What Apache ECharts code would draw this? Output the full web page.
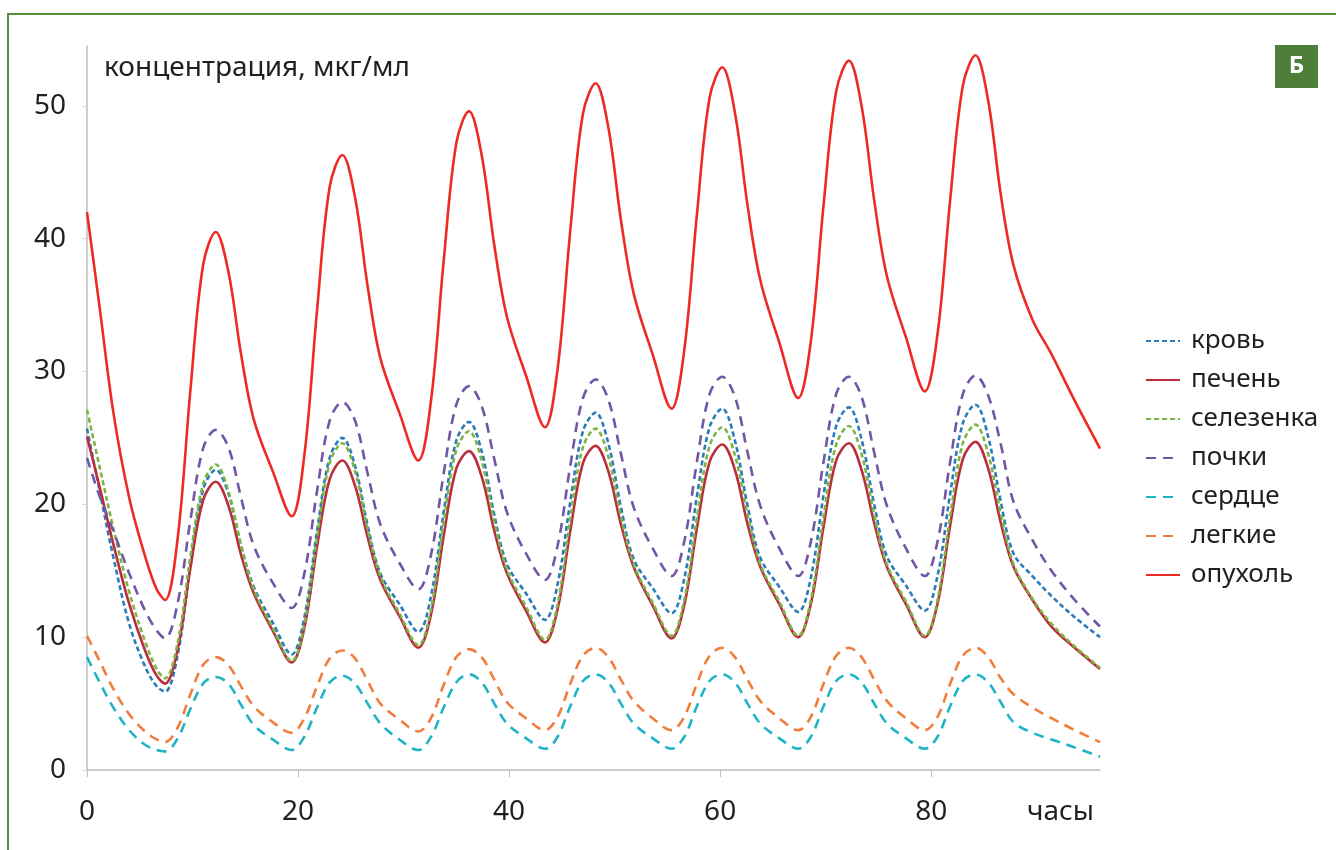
<!DOCTYPE html>
<html lang="ru">

<head>
    <meta charset="UTF-8">
    <title>концентрация</title>
    <script src="https://cdn.jsdelivr.net/npm/echarts@6/dist/echarts.min.js"></script>
    <style>
        * {
            margin: 0;
            padding: 0;
        }

        html,
        body {
            width: 100%;
            height: 100%;
            background: #fff;
        }
    </style>
</head>

<body>
    <div id="main" style="width: 1336px;height:850px;"></div>
</body>
<script>
    // часы
    var hours = [0, 1.2, 2.5, 4, 5.5, 6.6, 7.4,
        8.6, 9.8, 11, 12.2, 13.4, 14.6, 15.8, 17.6, 19.4,
        20.6, 21.8, 23, 24.2, 25.4, 26.6, 27.8, 29.6, 31.4,
        32.6, 33.8, 35, 36.2, 37.4, 38.6, 39.8, 41.6, 43.4,
        44.6, 45.8, 47, 48.2, 49.4, 50.6, 51.8, 53.6, 55.4,
        56.6, 57.8, 59, 60.2, 61.4, 62.6, 63.8, 65.6, 67.4,
        68.6, 69.8, 71, 72.2, 73.4, 74.6, 75.8, 77.6, 79.4,
        80.6, 81.8, 83, 84.2, 85.4, 86.6, 87.8, 89.6, 91.4, 93.6, 96];

    var blood = [25.7, 21.0, 16.0, 11.0, 7.8, 6.3, 5.9,
        8.7, 15.4, 21.1, 22.6, 20.8, 16.9, 13.8, 11.1, 8.7,
        11.5, 18.0, 23.5, 25.0, 22.9, 18.4, 14.8, 12.5, 10.4,
        13.1, 19.4, 24.8, 26.2, 24.0, 19.2, 15.5, 13.3, 11.3,
        14.0, 20.2, 25.5, 26.9, 24.6, 19.8, 15.9, 13.7, 11.8,
        14.4, 20.6, 25.8, 27.2, 24.8, 19.9, 16.0, 13.8, 11.9,
        14.5, 20.7, 25.9, 27.3, 24.9, 20.0, 16.1, 13.9, 12.0,
        14.6, 20.8, 26.1, 27.5, 25.1, 20.2, 16.3, 14.6, 13.1, 11.5, 10.0];

    var liver = [25.1, 21.3, 17.0, 12.5, 9.0, 7.1, 6.5,
        9.1, 15.2, 20.3, 21.7, 19.9, 16.2, 13.3, 10.5, 8.1,
        10.7, 16.8, 21.9, 23.3, 21.4, 17.5, 14.3, 11.6, 9.2,
        11.7, 17.6, 22.7, 24.0, 22.1, 18.0, 14.8, 12.0, 9.6,
        12.1, 18.0, 23.1, 24.4, 22.5, 18.5, 15.3, 12.4, 9.9,
        12.4, 18.2, 23.2, 24.5, 22.6, 18.5, 15.3, 12.5, 10.0,
        12.5, 18.3, 23.3, 24.6, 22.6, 18.6, 15.3, 12.5, 10.0,
        12.5, 18.4, 23.4, 24.7, 22.7, 18.6, 15.3, 12.8, 10.8, 9.2, 7.6];

    var spleen = [27.1, 22.8, 18.2, 13.4, 9.7, 7.6, 6.9,
        9.6, 16.1, 21.5, 23.0, 21.0, 16.9, 13.6, 10.7, 8.2,
        11.0, 17.5, 23.1, 24.6, 22.5, 18.1, 14.6, 11.8, 9.4,
        12.1, 18.6, 24.1, 25.5, 23.3, 18.7, 15.1, 12.3, 9.8,
        12.5, 18.9, 24.3, 25.7, 23.6, 19.1, 15.5, 12.6, 10.1,
        12.8, 19.0, 24.4, 25.8, 23.7, 19.2, 15.5, 12.7, 10.1,
        12.8, 19.1, 24.5, 25.9, 23.8, 19.2, 15.5, 12.7, 10.1,
        12.8, 19.1, 24.6, 26.0, 23.8, 19.3, 15.5, 12.9, 11.0, 9.3, 7.7];

    var kidneys = [23.5, 20.6, 18.0, 14.8, 12.0, 10.5, 9.9,
        12.6, 18.8, 24.2, 25.6, 24.3, 20.5, 16.9, 14.1, 12.2,
        14.8, 21.0, 26.3, 27.7, 26.3, 22.3, 18.5, 15.6, 13.6,
        16.2, 22.3, 27.5, 28.9, 27.4, 23.4, 19.4, 16.3, 14.3,
        16.9, 22.9, 28.0, 29.4, 27.9, 23.8, 19.8, 16.7, 14.6,
        17.2, 23.2, 28.3, 29.6, 28.1, 23.9, 19.9, 16.7, 14.6,
        17.2, 23.2, 28.3, 29.6, 28.1, 23.9, 19.9, 16.7, 14.6,
        17.2, 23.2, 28.3, 29.7, 28.2, 24.5, 20.2, 17.3, 15.0, 12.8, 10.8];

    var heart = [8.5, 6.6, 4.7, 3.0, 1.9, 1.5, 1.4,
        2.4, 4.6, 6.5, 7.0, 6.5, 4.9, 3.4, 2.3, 1.5,
        2.5, 4.7, 6.6, 7.1, 6.5, 5.0, 3.5, 2.3, 1.5,
        2.5, 4.7, 6.6, 7.2, 6.6, 5.0, 3.5, 2.4, 1.6,
        2.5, 4.8, 6.7, 7.2, 6.6, 5.0, 3.5, 2.4, 1.6,
        2.5, 4.8, 6.7, 7.2, 6.6, 5.0, 3.5, 2.4, 1.6,
        2.5, 4.8, 6.7, 7.2, 6.6, 5.0, 3.5, 2.4, 1.6,
        2.5, 4.8, 6.7, 7.2, 6.6, 5.1, 3.6, 2.8, 2.3, 1.7, 1.0];

    var lungs = [10.1, 8.2, 6.1, 4.2, 2.9, 2.3, 2.1,
        3.2, 5.7, 7.9, 8.5, 7.9, 6.3, 4.8, 3.6, 2.8,
        3.9, 6.3, 8.4, 9.0, 8.4, 6.7, 5.0, 3.8, 2.9,
        3.9, 6.4, 8.5, 9.1, 8.5, 6.8, 5.1, 3.9, 3.0,
        4.0, 6.5, 8.6, 9.2, 8.5, 6.8, 5.2, 3.9, 3.0,
        4.0, 6.5, 8.6, 9.2, 8.5, 6.8, 5.2, 3.9, 3.0,
        4.0, 6.5, 8.6, 9.2, 8.5, 6.8, 5.2, 3.9, 3.0,
        4.0, 6.5, 8.6, 9.2, 8.5, 6.9, 5.7, 4.7, 3.9, 3.0, 2.1];

    var tumor = [42.0, 34.8, 26.9, 20.5, 16.1, 13.6, 12.8,
        17.5, 28.6, 38.0, 40.5, 37.5, 31.3, 26.4, 22.5, 19.1,
        23.7, 34.6, 43.9, 46.3, 43.1, 36.4, 31.0, 26.9, 23.3,
        27.8, 38.3, 47.2, 49.6, 46.3, 39.5, 34.1, 29.7, 25.8,
        30.2, 40.6, 49.4, 51.7, 48.4, 41.4, 35.9, 31.3, 27.2,
        31.6, 41.8, 50.6, 52.9, 49.5, 42.5, 36.9, 32.2, 28.0,
        32.3, 42.5, 51.1, 53.4, 50.0, 42.9, 37.2, 32.6, 28.5,
        32.8, 42.9, 51.5, 53.8, 50.4, 43.3, 38.0, 33.9, 31.3, 27.8, 24.2];

    var xTicks = [0, 20, 40, 60, 80];
    var yTicks = [0, 10, 20, 30, 40, 50];

    var FONT = '"Noto Sans", "Open Sans", sans-serif';
    var TEXT = '#231f20';
    var AXIS = '#bdbdbd';
    var FRAME = '#5b8f3f';

    function pairs(values) {
        var res = [];
        for (var i = 0; i < hours.length; i++) {
            res.push([hours[i], values[i]]);
        }
        return res;
    }

    function line(name, values, color, dash) {
        return {
            name: name,
            type: 'line',
            data: pairs(values),
            smooth: 0.35,
            symbol: 'none',
            lineStyle: {
                color: color,
                width: 2.6,
                type: dash || 'solid'
            },
            itemStyle: { color: color }
        };
    }

    var myChart = echarts.init(document.getElementById('main'));
    myChart.setOption({
        animation: false,
        backgroundColor: '#fff',
        textStyle: { fontFamily: FONT },
        title: {
            text: 'концентрация, мкг/мл',
            left: 99,
            top: 49,
            textStyle: { fontFamily: FONT, fontSize: 28, fontWeight: 'normal', color: TEXT }
        },
        legend: {
            orient: 'vertical',
            left: 1140,
            top: 323,
            itemWidth: 34,
            itemHeight: 14,
            itemGap: 13,
            // только линия, без маркера
            itemStyle: { opacity: 0, borderWidth: 0 },
            textStyle: { fontFamily: FONT, fontSize: 26, color: TEXT, padding: [0, 0, 0, 6] },
            data: ['кровь', 'печень', 'селезенка', 'почки', 'сердце', 'легкие', 'опухоль']
        },
        grid: {
            left: 87,
            top: 46,
            width: 1013,
            height: 724
        },
        xAxis: {
            type: 'value',
            min: 0,
            max: 96,
            interval: 20,
            name: 'часы',
            nameLocation: 'end',
            nameGap: -73,
            nameTextStyle: {
                fontFamily: FONT, fontSize: 28, color: TEXT,
                verticalAlign: 'top', padding: [28, 0, 0, 0]
            },
            axisLine: { lineStyle: { color: AXIS, width: 1.5 } },
            axisTick: { show: true, length: 7, customValues: xTicks, lineStyle: { color: AXIS } },
            axisLabel: { customValues: xTicks, margin: 28, fontFamily: FONT, fontSize: 28, color: TEXT },
            splitLine: { show: false }
        },
        yAxis: {
            type: 'value',
            min: 0,
            max: 54.5,
            interval: 10,
            axisLine: { show: true, lineStyle: { color: AXIS, width: 1.5 } },
            axisTick: { show: true, length: 5, customValues: yTicks, lineStyle: { color: '#d6d6d6' } },
            axisLabel: { customValues: yTicks, margin: 21, fontFamily: FONT, fontSize: 28, color: TEXT },
            splitLine: { show: false }
        },
        graphic: [
            {
                type: 'polyline',
                shape: { points: [[8, 850], [8, 14], [1336, 14]] },
                style: { stroke: FRAME, lineWidth: 2, fill: null }
            },
            {
                type: 'rect',
                shape: { x: 1275, y: 45, width: 43, height: 43 },
                style: { fill: '#4f7d3a' }
            },
            {
                type: 'text',
                x: 1296.5,
                y: 66.5,
                style: {
                    text: 'Б', fill: '#fff', font: 'bold 24px ' + FONT,
                    align: 'center', verticalAlign: 'middle'
                }
            }
        ],
        series: [
            line('кровь', blood, '#2b7bba', [5, 3]),
            line('печень', liver, '#bb2d3b'),
            line('селезенка', spleen, '#7db544', [5, 3]),
            line('почки', kidneys, '#7256a6', [10, 7]),
            line('сердце', heart, '#1fb3c7', [10, 7]),
            line('легкие', lungs, '#f07d3c', [10, 7]),
            line('опухоль', tumor, '#ee2a24')
        ]
    });
</script>

</html>
